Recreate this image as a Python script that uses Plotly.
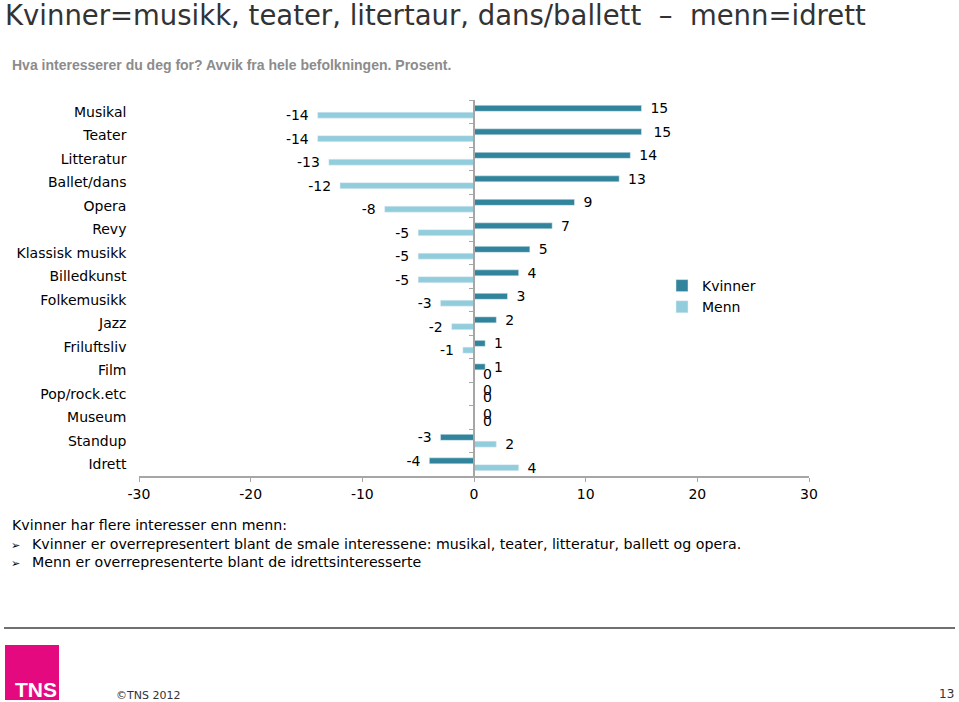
import plotly.graph_objects as go

categories = ["Musikal", "Teater", "Litteratur", "Ballet/dans", "Opera", "Revy",
              "Klassisk musikk", "Billedkunst", "Folkemusikk", "Jazz", "Friluftsliv",
              "Film", "Pop/rock.etc", "Museum", "Standup", "Idrett"]
kvinner = [15, 15, 14, 13, 9, 7, 5, 4, 3, 2, 1, 1, 0, 0, -3, -4]
menn = [-14, -14, -13, -12, -8, -5, -5, -5, -3, -2, -1, 0, 0, 0, 2, 4]
x_ticks = [-30, -20, -10, 0, 10, 20, 30]

W, H = 959, 702
L, R, T, B = 139, 150, 100, 226
PW, PH = W - L - R, H - T - B

def px(x):
    return (x - L) / PW

def py(y):
    return (H - B - y) / PH

def label(v):
    pad = "\u00a0\u00a0"
    return f"{v}{pad}" if v < 0 else f"{pad}{v}"

FONT = "DejaVu Sans"
DARK = "#31849B"
LIGHT = "#92CDDC"
AXIS = "#A6A6A6"

fig = go.Figure()
fig.add_trace(go.Bar(y=categories, x=kvinner, orientation="h", name="Kvinner",
                     legendgroup="k", marker_color=DARK, text=[label(v) for v in kvinner],
                     textposition="outside", cliponaxis=False, constraintext="none",
                     textfont=dict(family=FONT, size=14, color="#000000")))
fig.add_trace(go.Bar(y=categories, x=menn, orientation="h", name="Menn",
                     legendgroup="m", marker_color=LIGHT, text=[label(v) for v in menn],
                     textposition="outside", cliponaxis=False, constraintext="none",
                     textfont=dict(family=FONT, size=14, color="#000000")))

fig.update_layout(
    width=W, height=H,
    margin=dict(l=L, r=R, t=T, b=B, autoexpand=False),
    paper_bgcolor="white", plot_bgcolor="white",
    barmode="group", bargap=0.42, bargroupgap=0.12,
    font=dict(family=FONT, size=14, color="#000000"),
    showlegend=True,
    legend=dict(x=px(662), y=py(270), xanchor="left", yanchor="top",
                traceorder="normal", font=dict(family=FONT, size=14, color="#000000"),
                bgcolor="rgba(0,0,0,0)", itemwidth=30, tracegroupgap=4),
    xaxis=dict(range=[-30, 30], tickvals=x_ticks, ticktext=[str(v) for v in x_ticks],
               showgrid=False, zeroline=False, showline=True, linecolor=AXIS,
               linewidth=1.5, ticks="outside", ticklen=4, tickcolor=AXIS,
               tickfont=dict(family=FONT, size=14, color="#000000"), fixedrange=True),
    yaxis=dict(categoryorder="array", categoryarray=categories,
               range=[len(categories) - 0.5, -0.5],
               anchor="free", position=0.5,
               showgrid=False, zeroline=False, showline=True, linecolor=AXIS,
               linewidth=1.5, ticks="outside", ticklen=4, tickcolor=AXIS,
               tickson="boundaries", ticklabelstandoff=344,
               tickfont=dict(family=FONT, size=14, color="#000000"), fixedrange=True),
)

# Title and subtitle
fig.add_annotation(text="Kvinner=musikk, teater, litertaur, dans/ballett\u00a0\u00a0\u2013\u00a0\u00a0menn=idrett",
                   xref="paper", yref="paper", x=px(3), y=py(15), xanchor="left", yanchor="middle",
                   showarrow=False, font=dict(family=FONT, size=27.5, color="#333333"))
fig.add_annotation(text="<b>Hva interesserer du deg for? Avvik fra hele befolkningen. Prosent.</b>",
                   xref="paper", yref="paper", x=px(10), y=py(65), xanchor="left", yanchor="middle",
                   showarrow=False, font=dict(family="Liberation Sans", size=14, color="#8C8C8C"))

# Body text
body_font = dict(family=FONT, size=14.2, color="#000000")
fig.add_annotation(text="Kvinner har flere interesser enn menn:", xref="paper", yref="paper",
                   x=px(10), y=py(525), xanchor="left", yanchor="middle", showarrow=False, font=body_font)
fig.add_annotation(text="Kvinner er overrepresentert blant de smale interessene: musikal, teater, litteratur, ballett og opera.",
                   xref="paper", yref="paper", x=px(30), y=py(544), xanchor="left", yanchor="middle",
                   showarrow=False, font=body_font)
fig.add_annotation(text="Menn er overrepresenterte blant de idrettsinteresserte", xref="paper", yref="paper",
                   x=px(30), y=py(562), xanchor="left", yanchor="middle", showarrow=False, font=body_font)
for yy in (545, 563):
    fig.add_annotation(text="\u27a2", xref="paper", yref="paper", x=px(9), y=py(yy),
                       xanchor="left", yanchor="middle", showarrow=False,
                       font=dict(family=FONT, size=11, color="#000000"))

# Footer
fig.add_shape(type="line", xref="paper", yref="paper", x0=px(4), x1=px(955), y0=py(628), y1=py(628),
              line=dict(color="#707070", width=2))
fig.add_shape(type="rect", xref="paper", yref="paper", x0=px(5), x1=px(59), y0=py(645), y1=py(700),
              fillcolor="#E5097F", line=dict(width=0))
fig.add_annotation(text="<b>TNS</b>", xref="paper", yref="paper", x=px(36), y=py(689),
                   xanchor="center", yanchor="middle", showarrow=False,
                   font=dict(family="Liberation Sans Narrow, Liberation Sans", size=21, color="white"))
fig.add_annotation(text="\u00a9TNS 2012", xref="paper", yref="paper", x=px(114), y=py(695),
                   xanchor="left", yanchor="middle", showarrow=False,
                   font=dict(family=FONT, size=11, color="#333333"))
fig.add_annotation(text="13", xref="paper", yref="paper", x=px(956), y=py(694),
                   xanchor="right", yanchor="middle", showarrow=False,
                   font=dict(family=FONT, size=12, color="#333333"))

fig.write_html("out.html")
